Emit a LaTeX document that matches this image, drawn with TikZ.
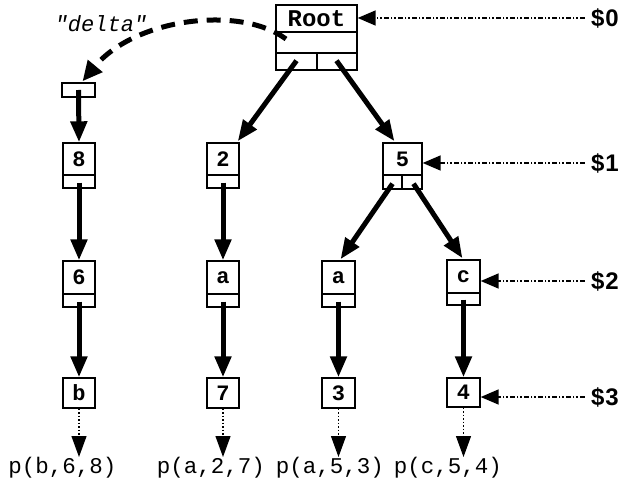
\documentclass[tikz,border=0pt]{standalone}
\usepackage{fontspec}
\setmonofont{Liberation Mono}
\setsansfont{Liberation Sans}
\usetikzlibrary{arrows.meta,calc}

\tikzset{
  box/.style={draw, line width=1.4pt, inner sep=0pt, fill=white},
  boxline/.style={line width=1.4pt},
  lbl/.style={font=\ttfamily\bfseries\fontsize{22}{22}\selectfont, inner sep=0pt},
  ptr/.style={line width=5pt, -{Triangle[length=21pt,width=16pt]}},
  deltaptr/.style={line width=5pt, dash pattern=on 14pt off 9pt, -{Triangle[length=20pt,width=18pt]}},
  level/.style={line width=1.5pt, dash pattern=on 5pt off 2pt on 1.5pt off 2pt on 1.5pt off 2pt,
                -{Triangle[length=18pt,width=15pt]}},
  levellbl/.style={font=\sffamily\bfseries\fontsize{24}{24}\selectfont, inner sep=0pt},
  outptr/.style={line width=1.2pt, dash pattern=on 1.5pt off 2pt, -{Triangle[length=21pt,width=15pt]}},
  outlbl/.style={font=\ttfamily\fontsize{22.5}{22.5}\selectfont, inner sep=0pt, anchor=north},
}

% name, centre x, top, bottom, split y, width, label
\newcommand\cellbox[7]{%
  \node[box, minimum width=#6, minimum height={#4-#3}] (#1) at (#2,{(#3+#4)/2}) {};
  \draw[boxline] (#1.west |- 0,#5) -- (#1.east |- 0,#5);
  \node[lbl] (#1t) at (#2,{(#3+#5)/2}) {#7};
}
% name, centre x, top, bottom, width, label
\newcommand\leafbox[6]{%
  \node[box, minimum width=#5, minimum height={#4-#3}] (#1) at (#2,{(#3+#4)/2}) {};
  \node[lbl] (#1t) at (#2,{(#3+#4)/2}) {#6};
}

\begin{document}
\begin{tikzpicture}[x=1pt,y=-1pt]
\useasboundingbox[fill=white] (0,0) rectangle (629,489);

% root record: label row, pointer row, two child pointers
\node[box, minimum width=81, minimum height=65] (root) at (316.5,37.5) {};
\draw[boxline] (root.west |- 0,32) -- (root.east |- 0,32);
\draw[boxline] (root.west |- 0,53) -- (root.east |- 0,53);
\draw[boxline] (317,53) -- (317,70);
\node[lbl, font=\ttfamily\bfseries\fontsize{24}{24}\selectfont] (roott) at (316.5,18.5) {Root};
\coordinate (rootptr) at (286,39);

% delta target
\node[box, minimum width=33, minimum height=14] (dbox) at (78.5,90) {};

% column 1
\cellbox{n8}{79}{143}{188}{175}{32}{8}
\cellbox{n6}{79}{261}{307}{294}{32}{6}
\leafbox{nb}{79}{378}{408}{32}{b}
% column 2
\cellbox{n2}{223}{143}{188}{175}{32}{2}
\cellbox{na}{223}{261}{307}{294}{32}{a}
\leafbox{n7}{223}{378}{408}{32}{7}
% node 5 with two child pointers
\cellbox{n5}{402.5}{143}{189}{175}{39}{5}
\draw[boxline] (402,175) -- (402,189);
% column 3
\cellbox{nc3}{338.5}{261}{307}{294}{33}{a}
\leafbox{n3}{338.5}{378}{408}{33}{3}
% column 4
\cellbox{nc}{463.5}{260}{305}{293}{33}{c}
\leafbox{n4}{463.5}{378}{407}{33}{4}

% tree pointers
\draw[ptr] ($(root.south)+(-20,-10)$) -- ($(n2.north east)+(-2,-1)$);
\draw[ptr] ($(root.south)+(20,-10)$) -- ($(n5.north)+(-8,-1)$);
\draw[ptr] ($(n5.south)+(-10,-6)$) -- ($(nc3.north)+(2,-1)$);
\draw[ptr] ($(n5.south)+(11,-6)$) -- ($(nc.north)+(-1,-1)$);

\draw[ptr] (dbox.center) -- (n8.north);
\draw[ptr] ($(n8.south)+(0,-6)$) -- (n6.north);
\draw[ptr] ($(n6.south)+(0,-6)$) -- (nb.north);
\draw[ptr] ($(n2.south)+(0,-6)$) -- (na.north);
\draw[ptr] ($(na.south)+(0,-6)$) -- (n7.north);
\draw[ptr] ($(nc3.south)+(0,-6)$) -- (n3.north);
\draw[ptr] ($(nc.south)+(0,-6)$) -- (n4.north);

% delta link
\draw[deltaptr] (rootptr) .. controls (240,5) and (135,18) .. ($(dbox.north)+(4,-1)$);
\node[font=\ttfamily\itshape\fontsize{22}{22}\selectfont, inner sep=0pt] (deltalbl) at (101,24) {"delta"};

% level markers
\node[levellbl] (l0) at (605,18) {\$\kern1pt0};
\node[levellbl] (l1) at (605,163) {\$\kern1pt1};
\node[levellbl] (l2) at (605,281) {\$\kern1pt2};
\node[levellbl] (l3) at (605,397) {\$\kern1pt3};
\draw[level] ($(l0.west)+(-6,0)$) -- (l0.west -| root.east);
\draw[level] ($(l1.west)+(-6,0)$) -- (l1.west -| n5.east);
\draw[level] ($(l2.west)+(-6,0)$) -- (l2.west -| nc.east);
\draw[level] ($(l3.west)+(-6,0)$) -- (l3.west -| n4.east);

% outputs
\node[outlbl] (o1) at (62.5,457) {p(b,6,8)};
\node[outlbl] (o2) at (211,457) {p(a,2,7)};
\node[outlbl] (o3) at (330,457) {p(a,5,3)};
\node[outlbl] (o4) at (448,457) {p(c,5,4)};
\draw[outptr] (nb.south) -- (nb.south |- o1.north);
\draw[outptr] (n7.south) -- (n7.south |- o2.north);
\draw[outptr] (n3.south) -- (n3.south |- o3.north);
\draw[outptr] (n4.south) -- (n4.south |- o4.north);
\end{tikzpicture}
\end{document}
